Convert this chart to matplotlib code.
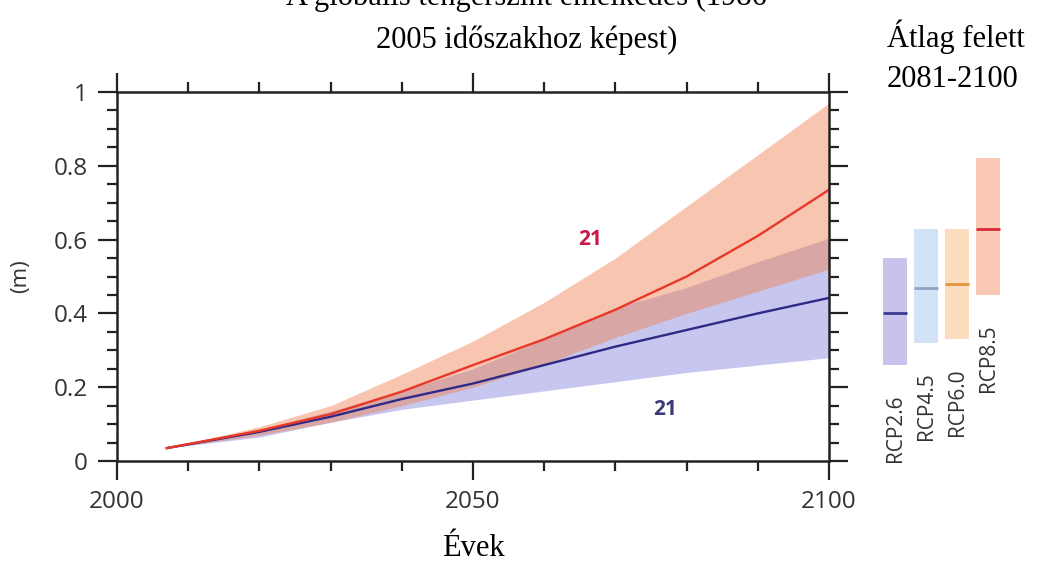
import numpy as np
import matplotlib.pyplot as plt
from matplotlib.ticker import MultipleLocator

# projected global mean sea level rise, RCP2.6 vs RCP8.5
years = [2007, 2020, 2030, 2040, 2050, 2060, 2070, 2080, 2090, 2100]
rcp85_mean = [0.035, 0.082, 0.127, 0.188, 0.26, 0.33, 0.41, 0.50, 0.61, 0.735]
rcp85_hi = [0.035, 0.093, 0.15, 0.235, 0.325, 0.43, 0.55, 0.69, 0.83, 0.97]
rcp85_lo = [0.035, 0.07, 0.105, 0.15, 0.20, 0.262, 0.335, 0.40, 0.46, 0.52]
rcp26_mean = [0.035, 0.079, 0.12, 0.168, 0.21, 0.26, 0.31, 0.355, 0.40, 0.442]
rcp26_hi = [0.035, 0.085, 0.135, 0.19, 0.25, 0.33, 0.415, 0.47, 0.54, 0.604]
rcp26_lo = [0.035, 0.065, 0.105, 0.14, 0.165, 0.19, 0.215, 0.24, 0.26, 0.28]

# 2081-2100 mean and likely range
scen = ['RCP2.6', 'RCP4.5', 'RCP6.0', 'RCP8.5']
scen_med = [0.40, 0.47, 0.48, 0.63]
scen_lo = [0.26, 0.32, 0.33, 0.45]
scen_hi = [0.55, 0.63, 0.63, 0.82]
bar_col = ['#c9c3ec', '#d3e3f7', '#fcdcbf', '#f9c9b6']
med_col = ['#3b3a96', '#8ea3c4', '#e39440', '#d42a35']

fig = plt.figure(figsize=(10.4, 5.7), dpi=100)
ax = fig.add_axes([0.1125, 0.1912, 0.6846, 0.6474])

ax.fill_between(years, rcp26_lo, rcp26_hi, color='#7b78d8', alpha=0.42, lw=0)
ax.fill_between(years, rcp85_lo, rcp85_hi, color='#f08050', alpha=0.45, lw=0)
ax.plot(years, rcp26_mean, color='#2e2a86', lw=1.7)
ax.plot(years, rcp85_mean, color='#e8382a', lw=1.7)

ax.text(2066.5, 0.60, '21', color='#c81848', fontsize=15, fontweight='bold',
        ha='center', va='center', family='Open Sans')
ax.text(2077, 0.14, '21', color='#3a3a78', fontsize=15, fontweight='bold',
        ha='center', va='center', family='Open Sans')

ax.set_xlim(2000, 2100)
ax.set_ylim(0, 1)
ax.xaxis.set_major_locator(MultipleLocator(50))
ax.xaxis.set_minor_locator(MultipleLocator(10))
ax.yaxis.set_minor_locator(MultipleLocator(0.05))
ax.set_yticks([0, 0.2, 0.4, 0.6, 0.8, 1])
ax.set_yticklabels(['0', '0.2', '0.4', '0.6', '0.8', '1'])
ax.tick_params(which='both', direction='out', top=True, right=True,
               width=1.6, color='#222222')
ax.tick_params(which='major', length=14, pad=7, labelsize=17.5, labelcolor='#333333')
ax.tick_params(which='minor', length=7)
for lab in ax.get_xticklabels() + ax.get_yticklabels():
    lab.set_family('Open Sans')
for s in ax.spines.values():
    s.set_linewidth(1.8)
    s.set_color('#222222')
ax.set_ylabel('(m)', fontsize=16, family='Open Sans', color='#333333', labelpad=16)
ax.set_xlabel('Évek', fontsize=22, family='Liberation Serif', labelpad=14)

# side panel with 2081-2100 ranges
ax2 = fig.add_axes([0.8457, 0.1912, 0.1192, 0.6474])
ax2.set_xlim(0, 4)
ax2.set_ylim(0, 1)
ax2.axis('off')
for i in range(4):
    ax2.bar(i + 0.5, scen_hi[i] - scen_lo[i], bottom=scen_lo[i], width=0.76,
            color=bar_col[i], lw=0)
    ax2.hlines(scen_med[i], i + 0.12, i + 0.88, color=med_col[i], lw=2)
    ax2.text(i + 0.5, scen_lo[i] - 0.08, scen[i], rotation=90, ha='center', va='top',
             fontsize=15, family='Open Sans', color='#333333')

fig.text(0.506, 1.005, 'A globális tengerszint emelkedés (1986', ha='center', va='center',
         fontsize=22, family='Liberation Serif')
fig.text(0.506, 0.93, '2005 időszakhoz képest)', ha='center', va='center',
         fontsize=22, family='Liberation Serif')
fig.text(0.853, 0.935, 'Átlag felett', ha='left', va='center',
         fontsize=22, family='Liberation Serif')
fig.text(0.853, 0.86, '2081-2100', ha='left', va='center',
         fontsize=22, family='Liberation Serif')

fig.savefig('out.png', dpi=100)
